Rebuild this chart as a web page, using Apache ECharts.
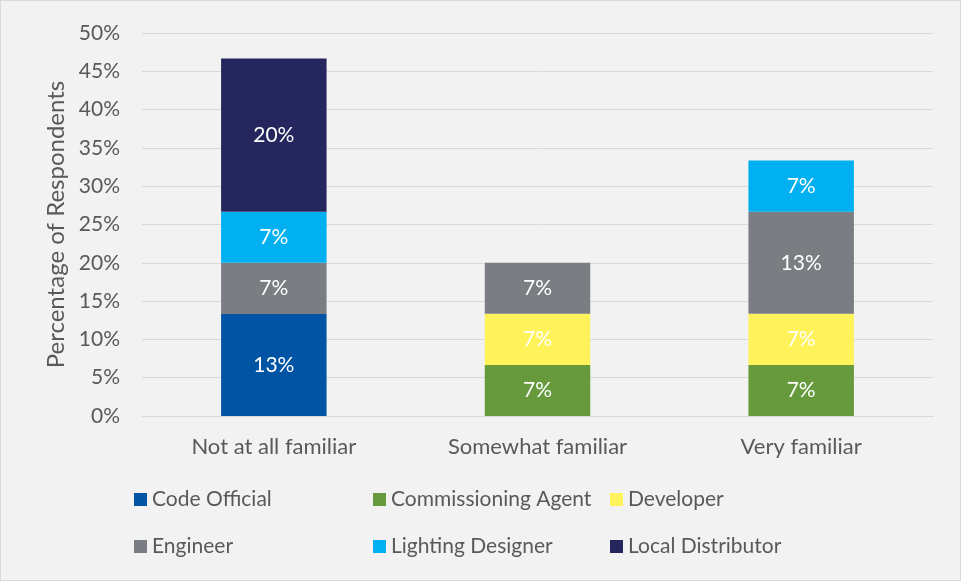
<!DOCTYPE html>
<html>
<head>
<meta charset="utf-8">
<script src="https://cdn.jsdelivr.net/npm/echarts@6/dist/echarts.min.js"></script>
<style>
  html, body { margin: 0; padding: 0; background: #f2f2f2; }
  #chart { width: 959px; height: 579px; border: 1px solid #d9d9d9; }
</style>
</head>
<body>
<div id="chart"></div>
<script>
const categories = ["Not at all familiar", "Somewhat familiar", "Very familiar"];
const seriesNames = ["Code Official", "Commissioning Agent", "Developer", "Engineer", "Lighting Designer", "Local Distributor"];
const codeOfficial = [13.33, 0, 0];
const commissioningAgent = [0, 6.67, 6.67];
const developer = [0, 6.67, 6.67];
const engineer = [6.67, 6.67, 13.33];
const lightingDesigner = [6.67, 0, 6.67];
const localDistributor = [20, 0, 0];
const colors = ["#0054a3", "#679a3d", "#fff25a", "#7a7e82", "#00b0f0", "#26265e"];

const values = [codeOfficial, commissioningAgent, developer, engineer, lightingDesigner, localDistributor];
const font = "Lato, 'Open Sans', sans-serif";

let chart = echarts.init(document.getElementById("chart"), null, { renderer: "canvas" });

// legend laid out as a 3x2 grid, one component per item
const legendPos = [[133, 488], [372, 488], [609, 488], [133, 535], [372, 535], [609, 535]];
let legends = seriesNames.map((name, i) => ({
  data: [name],
  left: legendPos[i][0],
  top: legendPos[i][1],
  padding: 0,
  icon: "rect",
  itemWidth: 13,
  itemHeight: 13,
  selectedMode: false,
  textStyle: { color: "#595959", fontSize: 21, fontFamily: font }
}));

let series = seriesNames.map((name, i) => ({
  name: name,
  type: "bar",
  stack: "total",
  barWidth: "40%",
  itemStyle: { color: colors[i] },
  label: {
    show: true,
    position: "inside",
    color: "#ffffff",
    fontSize: 21,
    fontFamily: font,
    formatter: (p) => (p.value > 0 ? Math.round(p.value) + "%" : "")
  },
  data: values[i]
}));

let option = {
  backgroundColor: "#f2f2f2",
  animation: false,
  grid: { left: 141, right: 27, top: 32, bottom: 164 },
  legend: legends,
  xAxis: {
    type: "category",
    data: categories,
    axisLine: { lineStyle: { color: "#d9d9d9", width: 1 } },
    axisTick: { show: false },
    axisLabel: { color: "#595959", fontSize: 22, fontFamily: font, margin: 20 }
  },
  yAxis: {
    type: "value",
    min: 0,
    max: 50,
    interval: 5,
    name: "Percentage of Respondents",
    nameLocation: "middle",
    nameGap: 74,
    nameTextStyle: { color: "#595959", fontSize: 24, fontFamily: font },
    axisLine: { show: false },
    axisTick: { show: false },
    splitLine: { lineStyle: { color: "#d9d9d9", width: 1 } },
    axisLabel: { color: "#595959", fontSize: 21, fontFamily: font, margin: 22, formatter: "{value}%" }
  },
  series: series
};

chart.setOption(option);
window.addEventListener("resize", chart.resize);
</script>
</body>
</html>
